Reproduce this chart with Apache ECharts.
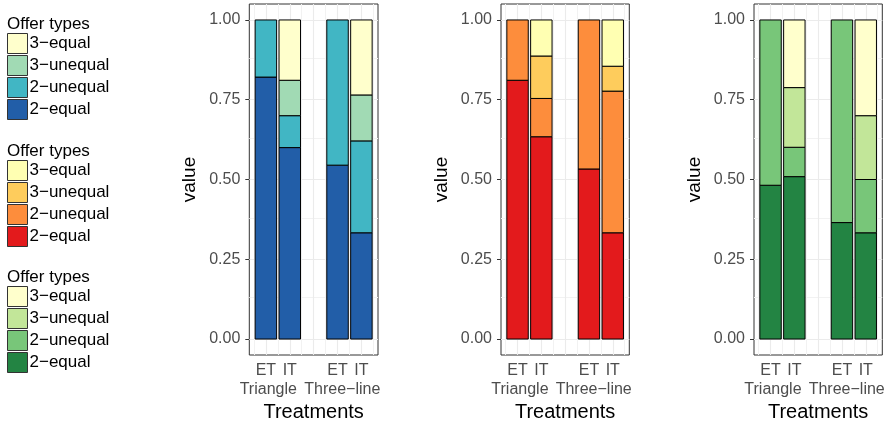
<!DOCTYPE html>
<html><head><meta charset="utf-8">
<script src="https://cdn.jsdelivr.net/npm/echarts@6/dist/echarts.min.js"></script>
<style>html,body{margin:0;padding:0;background:#fff}#c{width:890px;height:427px}</style>
</head><body><div id="c"></div>
<script>
// ---- data ----
const categories = ['ET', 'IT', 'ET', 'IT'];
const groups = ['Triangle', 'Three\u2212line'];
const offerTypes = ['2\u2212equal', '2\u2212unequal', '3\u2212unequal', '3\u2212equal']; // bottom -> top
const yTicks = [0, 0.25, 0.5, 0.75, 1];
const yMinor = [0.125, 0.375, 0.625, 0.875];
const xMajor = [1, 2, 3, 4, 5];
const xMinor = [0.5, 1.5, 2.5, 3.5, 4.5, 5.5];

// panel 1 (blue)
const blue2equal   = [0.821, 0.600, 0.545, 0.333];
const blue2unequal = [0.179, 0.100, 0.455, 0.288];
const blue3unequal = [0,     0.111, 0,     0.144];
const blue3equal   = [0,     0.189, 0,     0.235];
// panel 2 (red)
const red2equal   = [0.811, 0.634, 0.533, 0.333];
const red2unequal = [0.189, 0.120, 0.467, 0.444];
const red3unequal = [0,     0.133, 0,     0.078];
const red3equal   = [0,     0.113, 0,     0.145];
// panel 3 (green)
const green2equal   = [0.482, 0.509, 0.365, 0.333];
const green2unequal = [0.518, 0.092, 0.635, 0.167];
const green3unequal = [0,     0.187, 0,     0.200];
const green3equal   = [0,     0.212, 0,     0.300];

const blueColors  = ['#225EA8', '#41B6C4', '#A1DAB4', '#FFFFCC'];
const redColors   = ['#E31A1C', '#FD8D3C', '#FECC5C', '#FFFFB2'];
const greenColors = ['#238443', '#78C679', '#C2E699', '#FFFFCC'];

// ---- layout ----
const FONT = '"Liberation Sans", Arial, Helvetica, sans-serif';
const slots = [1, 2, 4, 5];
const groupPos = [1.1, 4.2];
const BAR_HALF = 0.45;
const panels = [
  {values: [blue2equal, blue2unequal, blue3unequal, blue3equal], colors: blueColors, left: 249.3, width: 128.7, legendTop: 33, titleTop: 16},
  {values: [red2equal, red2unequal, red3unequal, red3equal], colors: redColors, left: 501, width: 128.3, legendTop: 160, titleTop: 143},
  {values: [green2equal, green2unequal, green3unequal, green3equal], colors: greenColors, left: 754, width: 128.3, legendTop: 286, titleTop: 269}
];
const GTOP = 4, GH = 351;

const grid = [], xAxis = [], yAxis = [], series = [], legend = [], title = [];
panels.forEach((p, i) => {
  const suffix = ' '.repeat(i);
  grid.push({left: p.left, top: GTOP, width: p.width, height: GH, show: true,
    borderColor: '#333333', borderWidth: 1, backgroundColor: '#fff', containLabel: false});
  xAxis.push({
    type: 'value', gridIndex: i, min: 0.305, max: 5.695, position: 'bottom',
    axisLine: {show: false}, splitLine: {show: false},
    axisTick: {show: true, customValues: slots, length: 4, lineStyle: {color: '#333333', width: 1}},
    axisLabel: {customValues: slots, margin: 8, fontSize: 16, color: '#4D4D4D', fontFamily: FONT,
      formatter: v => categories[slots.indexOf(Math.round(v))]},
    name: 'Treatments', nameLocation: 'middle', nameGap: 47,
    nameTextStyle: {fontSize: 20, color: '#000', fontFamily: FONT}
  });
  xAxis.push({
    type: 'value', gridIndex: i, min: 0.305, max: 5.695, position: 'bottom',
    axisLine: {show: false}, splitLine: {show: false}, axisTick: {show: false},
    axisLabel: {customValues: groupPos, margin: 27, fontSize: 16, color: '#4D4D4D', fontFamily: FONT,
      formatter: v => (v < 3 ? groups[0] : groups[1])}
  });
  yAxis.push({
    type: 'value', gridIndex: i, min: -0.05, max: 1.05,
    axisLine: {show: false}, splitLine: {show: false},
    axisTick: {show: true, customValues: yTicks, length: 4, lineStyle: {color: '#333333', width: 1}},
    axisLabel: {customValues: yTicks, margin: 9, fontSize: 16, color: '#4D4D4D', fontFamily: FONT,
      formatter: v => v.toFixed(2)},
    name: 'value', nameLocation: 'middle', nameGap: 50, nameRotate: 90,
    nameTextStyle: {fontSize: 19, color: '#000', fontFamily: FONT}
  });
  // grid lines
  const ml = [];
  yTicks.forEach(v => ml.push({yAxis: v, lineStyle: {color: '#EBEBEB', width: 1.1, type: 'solid'}}));
  yMinor.forEach(v => ml.push({yAxis: v, lineStyle: {color: '#F2F2F2', width: 1, type: 'solid'}}));
  xMajor.forEach(v => ml.push({xAxis: v, lineStyle: {color: '#EBEBEB', width: 1.1, type: 'solid'}}));
  xMinor.forEach(v => ml.push({xAxis: v, lineStyle: {color: '#F2F2F2', width: 1, type: 'solid'}}));
  series.push({
    type: 'line', xAxisIndex: 2 * i, yAxisIndex: i, data: [], z: 1, silent: true,
    markLine: {silent: true, z: 1, symbol: ['none', 'none'], label: {show: false}, animation: false, data: ml}
  });
  // stacked bars: compute base/top from the values
  const cum = slots.map(() => 0);
  offerTypes.forEach((t, k) => {
    const color = p.colors[k];
    const data = [];
    p.values[k].forEach((v, j) => {
      if (v > 0) { data.push([slots[j], cum[j], cum[j] + v]); cum[j] += v; }
    });
    series.push({
      type: 'custom', name: t + suffix, xAxisIndex: 2 * i, yAxisIndex: i, z: 3,
      itemStyle: {color: color, borderColor: '#000', borderWidth: 1},
      encode: {x: 0, y: [1, 2]},
      data: data,
      renderItem: (params, api) => {
        const x = api.value(0), y0 = api.value(1), y1 = api.value(2);
        const a = api.coord([x - BAR_HALF, y1]);
        const b = api.coord([x + BAR_HALF, y0]);
        return {type: 'rect', shape: {x: a[0], y: a[1], width: b[0] - a[0], height: b[1] - a[1]},
          style: {fill: color, stroke: '#000', lineWidth: 1}};
      }
    });
  });
  legend.push({
    orient: 'vertical', left: 7, top: p.legendTop, itemWidth: 20, itemHeight: 20, itemGap: 1,
    padding: 0, icon: 'rect', selectedMode: false,
    itemStyle: {borderColor: '#333', borderWidth: 1},
    data: offerTypes.slice().reverse().map(t => t + suffix),
    formatter: n => n.replace(/\s+$/, ''),
    textStyle: {fontSize: 17, color: '#000', fontFamily: FONT, padding: [0, 0, 0, -3]}
  });
  title.push({text: 'Offer types', left: 7, top: p.titleTop, padding: 0,
    textStyle: {fontSize: 17, fontWeight: 'normal', color: '#000', fontFamily: FONT}});
});

const chart = echarts.init(document.getElementById('c'), null, {renderer: 'canvas'});
chart.setOption({animation: false, backgroundColor: '#fff', grid, xAxis, yAxis, series, legend, title});
</script></body></html>
